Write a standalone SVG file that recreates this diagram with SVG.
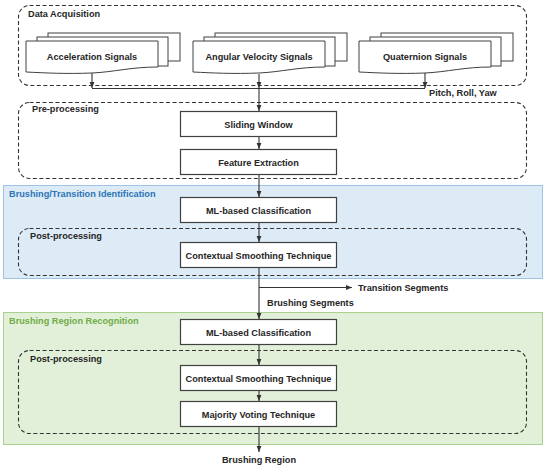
<svg xmlns="http://www.w3.org/2000/svg" width="550" height="467" viewBox="0 0 550 467">
<defs>
<style>
.t{font-family:"Liberation Sans",Arial,sans-serif;font-weight:bold;font-size:9.2px;fill:#262626}
.c{text-anchor:middle}
.box{fill:#fff;stroke:#404040;stroke-width:1.2}
.dash{fill:none;stroke:#333;stroke-width:1.1;stroke-dasharray:4 2.5}
.doc{fill:#fff;stroke:#404040;stroke-width:1}
.ln{fill:none;stroke:#333;stroke-width:1.1}
.la{fill:none;stroke:#333;stroke-width:1.1;marker-end:url(#ah)}
</style>
<marker id="ah" viewBox="0 0 10 10" refX="10" refY="5" markerWidth="6" markerHeight="6" markerUnits="userSpaceOnUse" orient="auto">
<path d="M0,1 L10,5 L0,9 Z" fill="#333"/>
</marker>
<g id="docstack">
<rect class="doc" x="22" y="-8" width="132" height="28"/>
<rect class="doc" x="11" y="-4" width="131" height="29"/>
<path class="doc" d="M0,0 H132 V26 C105,26 88,31 66,32 C40,33 20,32 0,31 Z"/>
</g>
</defs>

<rect id="bg" x="0" y="0" width="550" height="467" fill="#fff"/>

<g id="region-brushing-transition">
<rect x="3.5" y="185.5" width="539" height="93" fill="#ddebf7" stroke="#9dc3e6" stroke-width="1"/>
<text class="t" x="9" y="197" style="fill:#2e75b6">Brushing/Transition Identification</text>
</g>
<g id="region-brushing-region">
<rect x="3.5" y="312.5" width="539" height="132" fill="#e2f0d9" stroke="#a9d18e" stroke-width="1"/>
<text class="t" x="9" y="324" style="fill:#70ad47">Brushing Region Recognition</text>
</g>

<g id="group-data-acquisition">
<rect class="dash" x="18.5" y="5.5" width="508" height="80" rx="11"/>
<text class="t" x="28" y="17">Data Acquisition</text>
</g>
<g id="group-pre-processing">
<rect class="dash" x="18.5" y="102.5" width="508" height="76" rx="11"/>
<text class="t" x="32" y="112">Pre-processing</text>
</g>
<g id="group-post-processing-1">
<rect class="dash" x="18.5" y="228.5" width="508" height="47" rx="11"/>
<text class="t" x="30" y="239">Post-processing</text>
</g>
<g id="group-post-processing-2">
<rect class="dash" x="18.5" y="350.5" width="508" height="83" rx="11"/>
<text class="t" x="30" y="362">Post-processing</text>
</g>

<g id="node-acceleration">
<use href="#docstack" x="26" y="41"/>
<text class="t c" x="92" y="60">Acceleration Signals</text>
</g>
<g id="node-angular">
<use href="#docstack" x="193" y="41"/>
<text class="t c" x="259" y="60">Angular Velocity Signals</text>
</g>
<g id="node-quaternion">
<use href="#docstack" x="359" y="41"/>
<text class="t c" x="425" y="60">Quaternion Signals</text>
</g>

<g id="node-sliding-window">
<rect class="box" x="180.5" y="111.5" width="156" height="25"/>
<text class="t c" x="258.5" y="127.5">Sliding Window</text>
</g>
<g id="node-feature-extraction">
<rect class="box" x="180.5" y="149.5" width="156" height="25"/>
<text class="t c" x="258.5" y="165.5">Feature Extraction</text>
</g>
<g id="node-ml-1">
<rect class="box" x="180.5" y="197.5" width="156" height="25"/>
<text class="t c" x="258.5" y="213.5">ML-based Classification</text>
</g>
<g id="node-smoothing-1">
<rect class="box" x="180.5" y="242.5" width="156" height="25"/>
<text class="t c" x="258.5" y="258.5">Contextual Smoothing Technique</text>
</g>
<g id="node-ml-2">
<rect class="box" x="180.5" y="319.5" width="156" height="25"/>
<text class="t c" x="258.5" y="335.5">ML-based Classification</text>
</g>
<g id="node-smoothing-2">
<rect class="box" x="180.5" y="365.5" width="156" height="25"/>
<text class="t c" x="258.5" y="381.5">Contextual Smoothing Technique</text>
</g>
<g id="node-majority">
<rect class="box" x="180.5" y="401.5" width="156" height="25"/>
<text class="t c" x="258.5" y="417.5">Majority Voting Technique</text>
</g>

<g id="connectors">
<line class="la" x1="92" y1="73" x2="92" y2="88"/>
<line class="la" x1="425" y1="73" x2="425" y2="88"/>
<line class="la" x1="259" y1="74" x2="259" y2="88"/>
<line class="ln" x1="92" y1="88.5" x2="425" y2="88.5"/>
<line class="la" x1="259" y1="88" x2="259" y2="111"/>
<line class="la" x1="259" y1="137" x2="259" y2="149"/>
<line class="la" x1="259" y1="175" x2="259" y2="197"/>
<line class="la" x1="259" y1="223" x2="259" y2="242"/>
<line class="la" x1="259" y1="268" x2="259" y2="319"/>
<line class="la" x1="259" y1="287.5" x2="352" y2="287.5"/>
<line class="la" x1="259" y1="345" x2="259" y2="365"/>
<line class="la" x1="259" y1="391" x2="259" y2="401"/>
<line class="la" x1="259" y1="427" x2="259" y2="452"/>
</g>

<g id="labels">
<text class="t" x="429" y="96">Pitch, Roll, Yaw</text>
<text class="t" x="358" y="291">Transition Segments</text>
<text class="t" x="267" y="306">Brushing Segments</text>
<text class="t c" x="259" y="463">Brushing Region</text>
</g>
</svg>
